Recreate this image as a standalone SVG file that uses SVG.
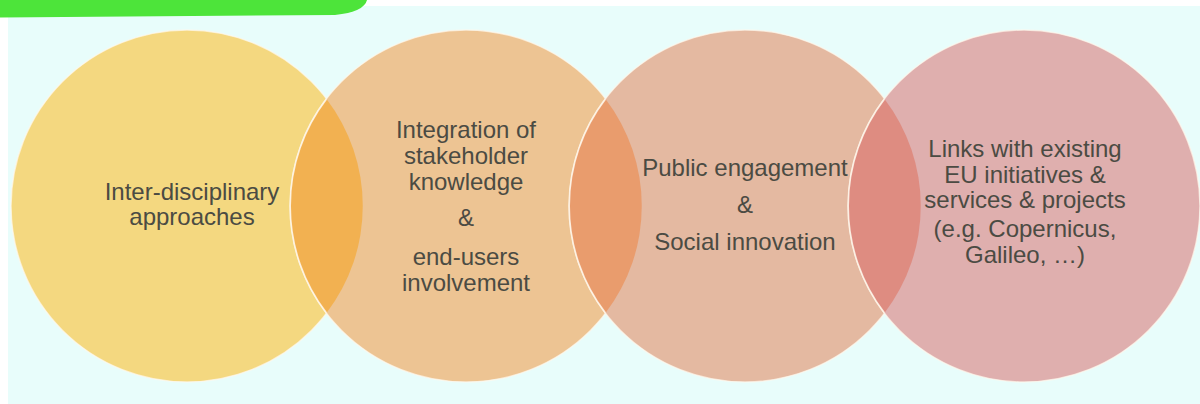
<svg xmlns="http://www.w3.org/2000/svg" width="1200" height="404" viewBox="0 0 1200 404">
<style>
.t{font-family:"Liberation Sans",Arial,sans-serif;font-size:24px;fill:#4b4b43;text-anchor:middle}
.c{stroke:#fff8ec;stroke-opacity:0.7;stroke-width:1.5}
.edge{fill:none;stroke:#fff8ec;stroke-opacity:0.85;stroke-width:1.5}
</style>
<rect x="0" y="0" width="1200" height="404" fill="#ffffff"/>
<rect x="8" y="6" width="1192" height="398" fill="#e8fdfb"/>
<path d="M0 0 H367 Q364 12 335 15 L0 17.5 Z" fill="#4de43a"/>
<g id="node1"><circle class="c" cx="187" cy="206" r="176" fill="#f4d880"/></g>
<g id="node2"><circle class="c" cx="466" cy="206" r="176" fill="#edc493"/></g>
<g id="node3"><circle class="c" cx="745" cy="206" r="176" fill="#e4b9a1"/></g>
<g id="node4"><circle class="c" cx="1024" cy="206" r="176" fill="#dfafae"/></g>
<g id="overlaps">
<path d="M326.5 99 A176 176 0 0 1 326.5 313 A176 176 0 0 1 326.5 99 Z" fill="#f2b151"/>
<path d="M605.5 99 A176 176 0 0 1 605.5 313 A176 176 0 0 1 605.5 99 Z" fill="#e99c6d"/>
<path d="M884.5 99 A176 176 0 0 1 884.5 313 A176 176 0 0 1 884.5 99 Z" fill="#de8c81"/>
<path class="edge" d="M326.5 99 A176 176 0 0 0 326.5 313"/>
<path class="edge" d="M605.5 99 A176 176 0 0 0 605.5 313"/>
<path class="edge" d="M884.5 99 A176 176 0 0 0 884.5 313"/>
</g>
<g id="labels1">
<text class="t" x="192" y="200">Inter-disciplinary</text>
<text class="t" x="192" y="225">approaches</text>
</g>
<g id="labels2">
<text class="t" x="466" y="138">Integration of</text>
<text class="t" x="466" y="164">stakeholder</text>
<text class="t" x="466" y="190">knowledge</text>
<text class="t" x="466" y="226">&amp;</text>
<text class="t" x="466" y="265">end-users</text>
<text class="t" x="466" y="291">involvement</text>
</g>
<g id="labels3">
<text class="t" x="745" y="176">Public engagement</text>
<text class="t" x="745" y="213">&amp;</text>
<text class="t" x="745" y="250">Social innovation</text>
</g>
<g id="labels4">
<text class="t" x="1025" y="157">Links with existing</text>
<text class="t" x="1025" y="183">EU initiatives &amp;</text>
<text class="t" x="1025" y="208">services &amp; projects</text>
<text class="t" x="1025" y="237">(e.g. Copernicus,</text>
<text class="t" x="1025" y="263">Galileo, …)</text>
</g>
</svg>
